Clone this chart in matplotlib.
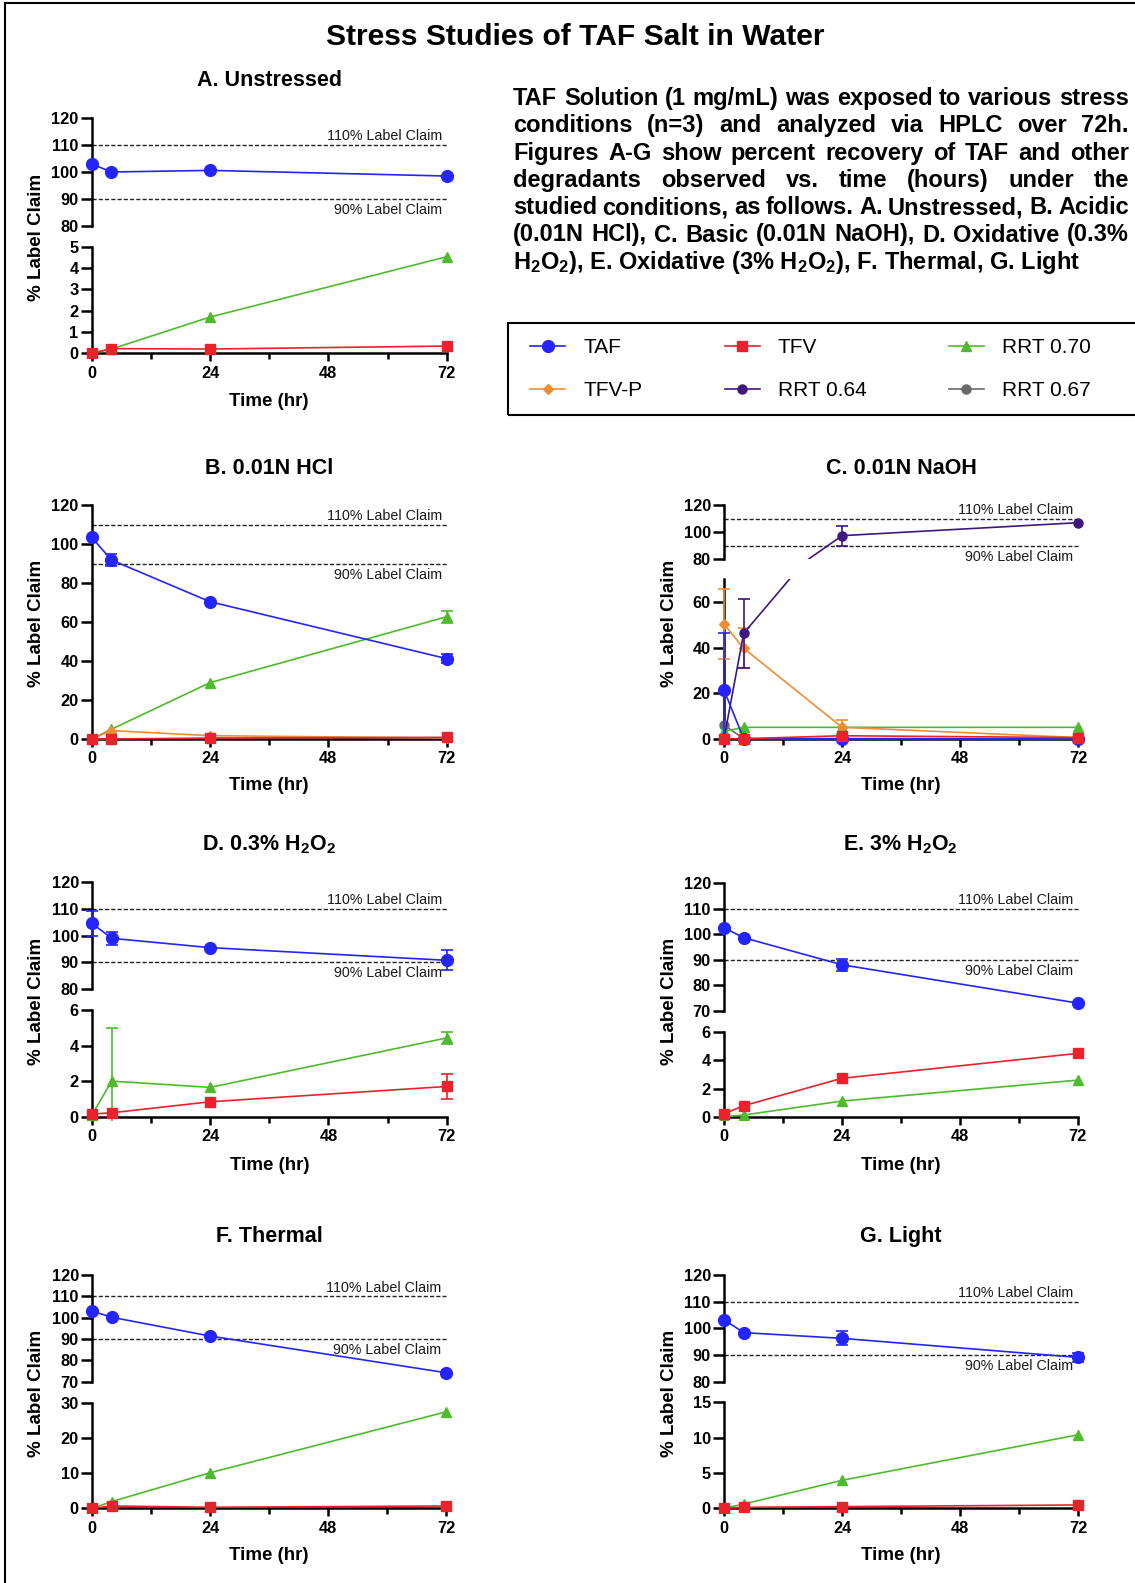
import numpy as np
import matplotlib.pyplot as plt
from matplotlib.lines import Line2D
from matplotlib.patches import Rectangle

plt.rcParams['font.family'] = ['Liberation Sans', 'DejaVu Sans']
plt.rcParams['font.weight'] = 'bold'
plt.rcParams['mathtext.default'] = 'regular'

hours = [0, 4, 24, 72]

# A. Unstressed
a_taf = [103.0, 100.0, 100.6, 98.5]
a_tfv = [0.0, 0.22, 0.2, 0.34]
a_rrt070 = [0.0, 0.2, 1.7, 4.53]

# B. 0.01N HCl
b_taf = [103.4, 91.8, 70.4, 41.2]
b_taf_err = [0, 3.0, 0, 2.4]
b_tfv = [0.0, 0.0, 0.5, 0.85]
b_tfvp = [0.0, 4.3, 1.7, 0.5]
b_rrt070 = [0.0, 5.0, 28.9, 62.7]
b_rrt070_err = [0, 0, 0, 3.0]

# C. 0.01N NaOH
c_taf = [21.4, 0.0, 0.0, 0.0]
c_taf_err = [25.0, 0, 0, 0]
c_tfv = [0.0, 0.0, 1.3, 0.5]
c_tfvp = [50.4, 39.7, 5.0, 0.5]
c_tfvp_err = [15.2, 8.8, 3.0, 0]
c_rrt064 = [0.0, 46.3, 97.3, 106.9]
c_rrt064_err = [0, 15.2, 7.5, 0]
c_rrt067 = [6.0, 0.0, 0.0, 0.0]
c_rrt070 = [3.2, 5.0, 5.0, 5.0]

# D. 0.3% H2O2
d_taf = [104.6, 99.0, 95.5, 90.75]
d_taf_err = [4.7, 2.5, 0, 3.7]
d_tfv = [0.15, 0.22, 0.84, 1.7]
d_tfv_err = [0, 0, 0, 0.7]
d_rrt070 = [0.1, 2.0, 1.65, 4.43]
d_rrt070_err = [0, 3.0, 0, 0.32]

# E. 3% H2O2
e_taf = [102.6, 98.7, 88.1, 73.1]
e_taf_err = [0, 0, 2.4, 0]
e_tfv = [0.21, 0.78, 2.73, 4.5]
e_rrt070 = [0.0, 0.12, 1.11, 2.6]

# F. Thermal
f_taf = [103.1, 100.2, 91.4, 74.2]
f_tfv = [0.0, 0.66, 0.3, 0.66]
f_rrt070 = [0.0, 1.9, 10.1, 27.4]

# G. Light
g_taf = [103.25, 98.4, 96.25, 89.1]
g_taf_err = [0, 0, 2.6, 1.7]
g_tfv = [0.0, 0.14, 0.24, 0.47]
g_rrt070 = [0.0, 0.6, 3.96, 10.4]

desc_lines = [
    "TAF Solution (1 mg/mL) was exposed to various stress",
    "conditions (n=3) and analyzed via HPLC over 72h.",
    "Figures A-G show percent recovery of TAF and other",
    "degradants observed vs. time (hours) under the",
    "studied conditions, as follows. A. Unstressed, B. Acidic",
    "(0.01N HCl), C. Basic (0.01N NaOH), D. Oxidative (0.3%",
    "H$_2$O$_2$), E. Oxidative (3% H$_2$O$_2$), F. Thermal, G. Light",
]

style = {
    'TAF': dict(color='#2424ff', marker='o', ms=8.5),
    'TFV': dict(color='#e8232b', marker='s', ms=7.5),
    'RRT 0.70': dict(color='#4dbb2b', marker='^', ms=7.5),
    'TFV-P': dict(color='#f28c32', marker='D', ms=5.5),
    'RRT 0.64': dict(color='#3f1780', marker='o', ms=6.5),
    'RRT 0.67': dict(color='#696969', marker='o', ms=6.5),
}
draw_order = ['RRT 0.67', 'RRT 0.70', 'TFV-P', 'RRT 0.64', 'TAF', 'TFV']

# layout in pixels: x of t=0, x of t=72, (ylo, yhi, px of yhi, px of ylo, step)
panels = [
    dict(title='A. Unstressed', tb=86, x0=91.7, x72=446.7,
         top=(80, 120, 118.3, 225.7, 10), bot=(0, 5, 246.7, 353.3, 1),
         ylab=(36.7, 237), xlab=401,
         data={'TAF': (a_taf, None), 'TFV': (a_tfv, None), 'RRT 0.70': (a_rrt070, None)}),
    dict(title='B. 0.01N HCl', tb=474, x0=91.7, x72=446.7,
         top=None, bot=(0, 120, 505, 739, 20),
         ylab=(36.7, 623), xlab=786,
         data={'TAF': (b_taf, b_taf_err), 'TFV': (b_tfv, None), 'TFV-P': (b_tfvp, None),
               'RRT 0.70': (b_rrt070, b_rrt070_err)}),
    dict(title='C. 0.01N NaOH', tb=474, x0=724, x72=1078.3,
         top=(80, 120, 505, 559, 20), bot=(0, 70, 579.3, 738.7, 20),
         ylab=(669, 623), xlab=786,
         data={'TAF': (c_taf, c_taf_err), 'TFV': (c_tfv, None), 'TFV-P': (c_tfvp, c_tfvp_err),
               'RRT 0.64': (c_rrt064, c_rrt064_err), 'RRT 0.67': (c_rrt067, None),
               'RRT 0.70': (c_rrt070, None)}),
    dict(title='D. 0.3% H$_2$O$_2$', tb=850, x0=92, x72=446.7,
         top=(80, 120, 882.3, 989, 10), bot=(0, 6, 1010, 1116.7, 2),
         ylab=(36.7, 1001), xlab=1165,
         data={'TAF': (d_taf, d_taf_err), 'TFV': (d_tfv, d_tfv_err), 'RRT 0.70': (d_rrt070, d_rrt070_err)}),
    dict(title='E. 3% H$_2$O$_2$', tb=850, x0=724, x72=1077.7,
         top=(70, 120, 883.3, 1011, 10), bot=(0, 6, 1032.3, 1116.7, 2),
         ylab=(669, 1001), xlab=1165,
         data={'TAF': (e_taf, e_taf_err), 'TFV': (e_tfv, None), 'RRT 0.70': (e_rrt070, None)}),
    dict(title='F. Thermal', tb=1242, x0=92, x72=446,
         top=(70, 120, 1275, 1381.7, 10), bot=(0, 30, 1402.7, 1508.3, 10),
         ylab=(36.7, 1393), xlab=1555,
         data={'TAF': (f_taf, None), 'TFV': (f_tfv, None), 'RRT 0.70': (f_rrt070, None)}),
    dict(title='G. Light', tb=1242, x0=724, x72=1078,
         top=(80, 120, 1275, 1381.7, 10), bot=(0, 15, 1402.3, 1508.3, 5),
         ylab=(669, 1393), xlab=1555,
         data={'TAF': (g_taf, g_taf_err), 'TFV': (g_tfv, None), 'RRT 0.70': (g_rrt070, None)}),
]

W, H = 1135, 1583
fig = plt.figure(figsize=(W / 100, H / 100), dpi=100)


def make_axes(x0, x72, spec, pad_lo, with_x):
    ylo, yhi, py_hi, py_lo, step = spec
    ppx = (x72 - x0) / 72.0
    xa, xb = -2.0, 74.0
    left, right = x0 + xa * ppx, x0 + xb * ppx
    ppy = (py_lo - py_hi) / (yhi - ylo)
    ymin = ylo - pad_lo * (yhi - ylo)
    bot_px = py_lo + (ylo - ymin) * ppy
    ax = fig.add_axes([left / W, 1 - bot_px / H, (right - left) / W, (bot_px - py_hi) / H])
    ax.set_xlim(xa, xb)
    ax.set_ylim(ymin, yhi)
    ax.patch.set_alpha(0)
    ax.spines['top'].set_visible(False)
    ax.spines['right'].set_visible(False)
    ax.spines['left'].set_position(('data', 0))
    ax.spines['left'].set_bounds(ylo, yhi)
    ax.spines['left'].set_linewidth(1.8)
    ax.set_yticks(np.arange(ylo, yhi + 0.01, step))
    ax.tick_params(axis='y', direction='out', length=8, width=1.8, labelsize=11.8, pad=1.5)
    if with_x:
        ax.spines['bottom'].set_position(('data', 0))
        ax.spines['bottom'].set_bounds(0, 72)
        ax.spines['bottom'].set_linewidth(1.8)
        ax.set_xticks([0, 24, 48, 72])
        ax.set_xticks([12, 36, 60], minor=True)
        ax.tick_params(axis='x', which='major', direction='out', length=6, width=1.8, labelsize=11.8, pad=3)
        ax.tick_params(axis='x', which='minor', direction='out', length=4, width=1.8)
    else:
        ax.spines['bottom'].set_visible(False)
        ax.set_xticks([])
    return ax


def claim_lines(ax):
    ax.hlines([90, 110], 0, 72, colors='#222222', linestyles=(0, (3, 1.5)), lw=1.0, zorder=1)
    ax.annotate('110% Label Claim', xy=(71, 110), xytext=(0, 1.2), textcoords='offset points',
                ha='right', va='bottom', fontsize=10.3, fontweight='normal', color='#1a1a1a')
    ax.annotate('90% Label Claim', xy=(71, 90), xytext=(0, -3), textcoords='offset points',
                ha='right', va='top', fontsize=10.3, fontweight='normal', color='#1a1a1a')


for p in panels:
    axes = []
    if p['top'] is not None:
        ax_top = make_axes(p['x0'], p['x72'], p['top'], 0.0, False)
        claim_lines(ax_top)
        axes.append(ax_top)
        ax_bot = make_axes(p['x0'], p['x72'], p['bot'], 0.04, True)
    else:
        ax_bot = make_axes(p['x0'], p['x72'], p['bot'], 0.04, True)
        claim_lines(ax_bot)
    axes.append(ax_bot)

    for name in draw_order:
        if name not in p['data']:
            continue
        vals, err = p['data'][name]
        st = style[name]
        for ax in axes:
            ax.plot(hours, vals, color=st['color'], lw=1.2, marker=st['marker'],
                    ms=st['ms'], mec=st['color'], zorder=3)
            if err is not None:
                idx = [i for i, e in enumerate(err) if e > 0]
                ax.errorbar([hours[i] for i in idx], [vals[i] for i in idx],
                            yerr=[err[i] for i in idx], fmt='none', ecolor=st['color'],
                            elinewidth=1.2, capsize=4, capthick=1.2, zorder=3)

    xc = (p['x0'] + p['x72']) / 2
    fig.text(xc / W, 1 - p['tb'] / H, p['title'], ha='center', va='baseline', fontsize=15.5)
    fig.text(p['ylab'][0] / W, 1 - p['ylab'][1] / H, '% Label Claim', rotation=90,
             ha='center', va='center', fontsize=13.5)
    fig.text(xc / W, 1 - p['xlab'] / H, 'Time (hr)', ha='center', va='center', fontsize=13.5)

fig.text(575 / W, 1 - 45 / H, 'Stress Studies of TAF Salt in Water', ha='center',
         va='baseline', fontsize=21.6)

# justified description block
renderer = fig.canvas.get_renderer()
left_px, right_px = 513, 1129
for i, line in enumerate(desc_lines):
    yb = 1 - (105 + 27.3 * i) / H
    if i == len(desc_lines) - 1:
        fig.text(left_px / W, yb, line, ha='left', va='baseline', fontsize=17)
        continue
    words = line.split(' ')
    texts = [fig.text(0, yb, w, ha='left', va='baseline', fontsize=17) for w in words]
    widths = [t.get_window_extent(renderer).width for t in texts]
    gap = (right_px - left_px - sum(widths)) / (len(words) - 1)
    x = left_px
    for t, w in zip(texts, widths):
        t.set_x(x / W)
        x += w + gap

# legend
leg_order = ['TAF', 'TFV-P', 'TFV', 'RRT 0.64', 'RRT 0.70', 'RRT 0.67']
handles = [Line2D([], [], color=style[n]['color'], lw=1.2, marker=style[n]['marker'],
                  ms=style[n]['ms'], mec=style[n]['color']) for n in leg_order]
fig.legend(handles, leg_order, loc='upper left', bbox_to_anchor=(530 / W, 1 - 338 / H),
           ncol=3, frameon=False, prop={'size': 15, 'weight': 'normal'},
           handlelength=1.7, handletextpad=0.85, columnspacing=3.95, labelspacing=1.15,
           borderpad=0, borderaxespad=0)
fig.add_artist(Rectangle((508 / W, 1 - 415 / H), (1140 - 508) / W, 92 / H,
                         transform=fig.transFigure, fill=False, lw=1.5, ec='black'))

# frame of the figure
fig.add_artist(Line2D([5 / W, 5 / W], [0, 1 - 3 / H], transform=fig.transFigure, color='black', lw=1.5))
fig.add_artist(Line2D([5 / W, 1], [1 - 3 / H, 1 - 3 / H], transform=fig.transFigure, color='black', lw=1.5))

fig.savefig('out.png', dpi=100)
